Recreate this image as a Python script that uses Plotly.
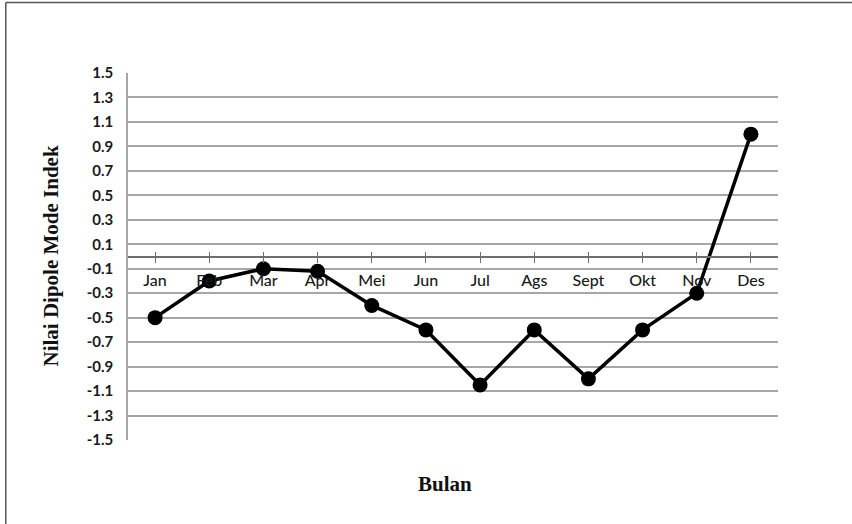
import plotly.graph_objects as go

months = ["Jan", "Feb", "Mar", "Apr", "Mei", "Jun", "Jul", "Ags", "Sept", "Okt", "Nov", "Des"]
dmi = [-0.5, -0.2, -0.1, -0.12, -0.4, -0.6, -1.05, -0.6, -1.0, -0.6, -0.3, 1.0]
y_ticks = [-1.5, -1.3, -1.1, -0.9, -0.7, -0.5, -0.3, -0.1, 0.1, 0.3, 0.5, 0.7, 0.9, 1.1, 1.3, 1.5]
y_title = "Nilai Dipole Mode Indek"
x_title = "Bulan"

idx = list(range(len(months)))

fig = go.Figure()
fig.add_trace(go.Scatter(
    x=idx, y=dmi, mode="lines+markers",
    line=dict(color="black", width=3.5),
    marker=dict(color="black", size=15),
    showlegend=False, hoverinfo="skip",
))

fig.update_layout(
    width=852, height=524,
    margin=dict(l=128, r=74, t=73, b=84),
    paper_bgcolor="white", plot_bgcolor="white",
    xaxis=dict(
        range=[-0.5, len(months) - 0.5], tickvals=idx, ticktext=months,
        anchor="free", position=0.5, showgrid=False, zeroline=False,
        showline=True, linecolor="#6e6e6e", linewidth=2,
        ticks="outside", ticklen=5, tickwidth=1.2, tickcolor="#6e6e6e",
        tickfont=dict(family="Lato", size=16, color="#1a1a1a", weight=500),
        ticklabelstandoff=4,
    ),
    xaxis2=dict(
        range=[-0.5, len(months) - 0.5], overlaying="x",
        tickvals=idx + [len(months) - 0.5], showticklabels=False,
        anchor="free", position=0.5, showgrid=False, zeroline=False,
        showline=False, ticks="inside", ticklen=5, tickwidth=1.2, tickcolor="#6e6e6e",
    ),
    yaxis=dict(
        range=[-1.5, 1.5], tickvals=y_ticks, ticktext=[f"{v:.1f}" for v in y_ticks],
        showgrid=True, gridcolor="#a6a6a6", gridwidth=1.6, zeroline=False,
        showline=True, linecolor="#a6a6a6", linewidth=1.6,
        ticks="", tickfont=dict(family="Lato", size=15, color="#1a1a1a", weight="bold"),
        ticklabelstandoff=10,
    ),
    shapes=[
        dict(type="line", xref="paper", yref="paper",
             x0=-0.188, x1=1.2, y0=1.192, y1=1.192,
             line=dict(color="#555", width=1.5), layer="below"),
        dict(type="line", xref="paper", yref="paper",
             x0=-0.188, x1=-0.188, y0=-0.4, y1=1.192,
             line=dict(color="#555", width=1.5), layer="below"),
    ],
    annotations=[
        dict(text=y_title, xref="paper", yref="paper", x=-0.12, y=0.5,
             textangle=-90, showarrow=False, xanchor="center", yanchor="middle",
             font=dict(family="Liberation Serif", size=21, color="#111", weight="bold")),
        dict(text=x_title, xref="paper", yref="paper", x=0.487, y=-0.12,
             showarrow=False, xanchor="center", yanchor="middle",
             font=dict(family="Liberation Serif", size=21, color="#111", weight="bold")),
    ],
)
fig.add_trace(go.Scatter(x=[None], y=[None], xaxis="x2", showlegend=False))

fig.write_html("out.html")
